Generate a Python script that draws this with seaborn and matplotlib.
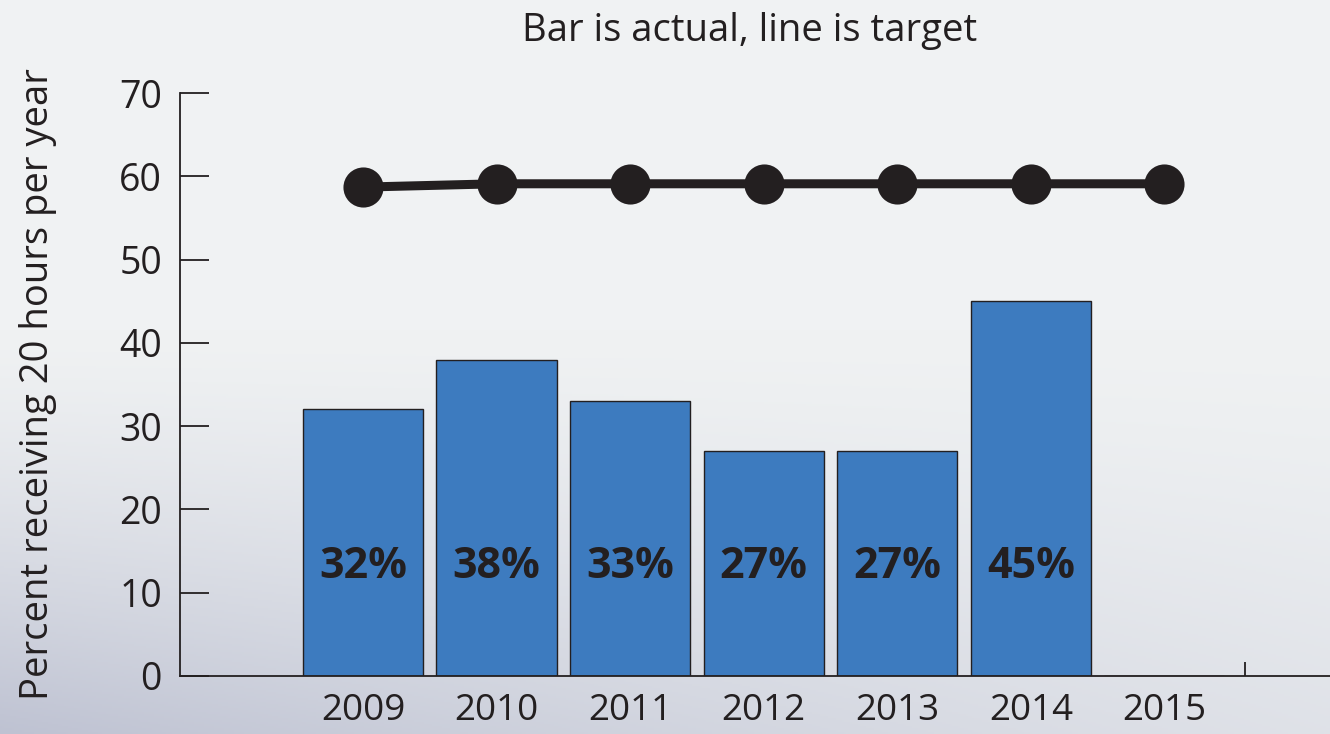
import numpy as np
import pandas as pd
import matplotlib
matplotlib.use("Agg")
import matplotlib.pyplot as plt
from matplotlib.ticker import FixedLocator
import seaborn as sns

# Data
years = ["2009", "2010", "2011", "2012", "2013", "2014", "2015"]
actual = [32, 38, 33, 27, 27, 45, 0]
target = [58.7, 59.1, 59.1, 59.1, 59.1, 59.1, 59.1]
bar_labels = ["32%", "38%", "33%", "27%", "27%", "45%", ""]
y_ticks = [0, 10, 20, 30, 40, 50, 60, 70]

title = "Bar is actual, line is target"
y_title = "Percent receiving 20 hours per year"

df = pd.DataFrame({"year": years, "actual": actual, "target": target})

sns.set_theme(style="white")
plt.rcParams["font.family"] = ["Open Sans", "DejaVu Sans"]

ink = "#231f20"
bar_color = "#3d7bbf"

fig = plt.figure(figsize=(13.3, 7.34), dpi=100)

# Soft backdrop: light grey at the top fading to a blue-grey at the bottom
H, W = 367, 665
yy, xx = np.mgrid[0:H, 0:W]
yf = yy / (H - 1)
xf = xx / (W - 1)
top = np.array([240, 242, 243]) / 255
bot_left = np.array([190, 194, 210]) / 255
bot_right = np.array([214, 217, 226]) / 255
bottom = bot_left[None, None, :] * (1 - xf[..., None]) + bot_right[None, None, :] * xf[..., None]
t = np.clip((yf - 0.45) / 0.55, 0, 1) ** 1.3
t = t * (1 - 0.35 * xf)
img = top[None, None, :] * (1 - t[..., None]) + bottom * t[..., None]
bg = fig.add_axes([0, 0, 1, 1], zorder=-10)
bg.imshow(img, aspect="auto", extent=[0, 1, 0, 1], origin="upper")
bg.set_axis_off()

ax = fig.add_axes([180 / 1330, 1 - 676 / 734, 1 - 180 / 1330, (676 - 93) / 734])
ax.set_facecolor("none")

sns.barplot(data=df, x="year", y="actual", order=years, color=bar_color,
            saturation=1, width=0.9, edgecolor=ink, linewidth=1.0, ax=ax, zorder=2)
sns.pointplot(data=df, x="year", y="target", order=years, color=ink,
              markers="o", markersize=24, linewidth=6.5, ax=ax, zorder=3)

for i, lab in enumerate(bar_labels):
    if lab:
        ax.text(i, 13.1, lab, ha="center", va="center", fontsize=31,
                fontweight="bold", color=ink, zorder=4)

ax.set_xlim(-1.37, 7.24)
ax.set_ylim(0, 70)
ax.set_yticks(y_ticks)
ax.set_yticklabels([str(v) for v in y_ticks])

for s in ["top", "right"]:
    ax.spines[s].set_visible(False)
for s in ["left", "bottom"]:
    ax.spines[s].set_visible(True)
    ax.spines[s].set_color(ink)
    ax.spines[s].set_linewidth(1.3)

ax.tick_params(axis="y", direction="in", length=21, width=1.3, color=ink,
               labelsize=27, labelcolor=ink, pad=13, left=True)
ax.tick_params(axis="x", which="major", length=0, labelsize=26.5,
               labelcolor=ink, pad=12)
ax.xaxis.set_minor_locator(FixedLocator([6.6]))
ax.tick_params(axis="x", which="minor", direction="in", length=10,
               width=1.3, color=ink, bottom=True)

ax.set_xlabel("")
ax.set_ylabel(y_title, fontsize=27.5, color=ink)
ax.yaxis.set_label_coords(-0.107, 0.5)

fig.text(750 / 1330, 1 - 31 / 734, title, ha="center", va="center",
         fontsize=27.5, color=ink)

fig.savefig("out.png", dpi=100)
